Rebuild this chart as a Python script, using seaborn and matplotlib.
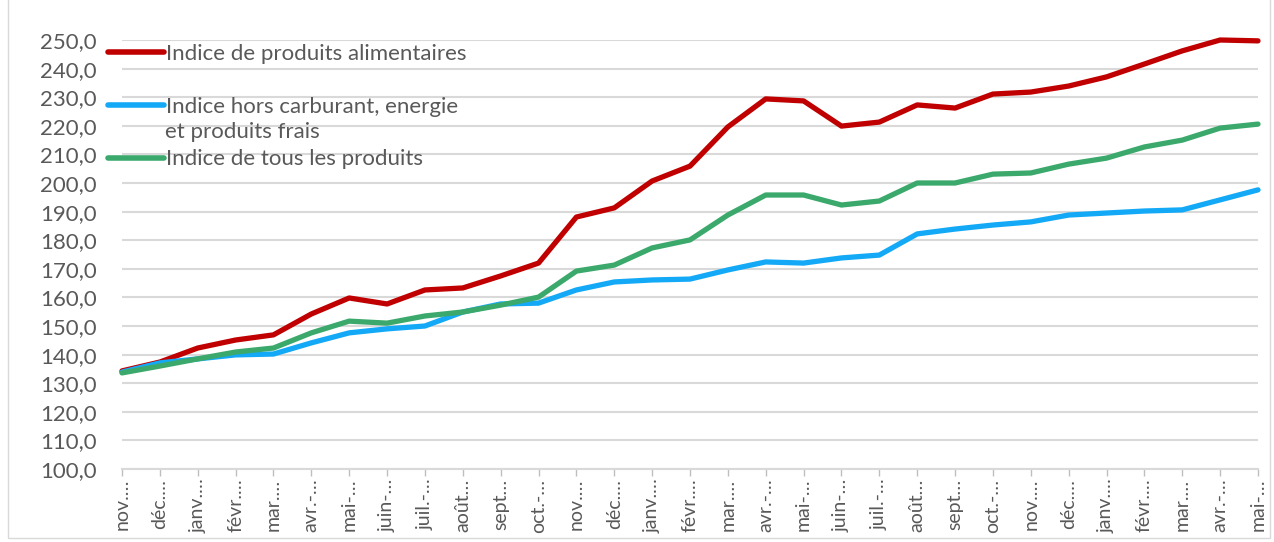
import matplotlib
matplotlib.use("Agg")
import matplotlib.pyplot as plt
import seaborn as sns
import pandas as pd
from matplotlib.patches import Rectangle

months = ["nov.…", "déc.…", "janv.…", "févr.…", "mar.…", "avr.-…", "mai-…", "juin-…",
          "juil.-…", "août…", "sept…", "oct.-…",
          "nov.…", "déc.…", "janv.…", "févr.…", "mar.…", "avr.-…", "mai-…", "juin-…",
          "juil.-…", "août…", "sept…", "oct.-…",
          "nov.…", "déc.…", "janv.…", "févr.…", "mar.…", "avr.-…", "mai-…"]

alimentaires = [134.3, 137.4, 142.3, 145.1, 146.9, 154.2, 159.8, 157.7, 162.6, 163.3,
                167.5, 172.0, 188.1, 191.3, 200.7, 205.9, 219.6, 229.4, 228.7, 219.9,
                221.3, 227.3, 226.2, 231.1, 231.8, 233.9, 237.1, 241.6, 246.2, 250.0, 249.7]
hors_carburant = [133.9, 137.1, 138.5, 139.9, 140.2, 144.1, 147.6, 149.0, 150.0, 154.9,
                  157.7, 158.0, 162.6, 165.4, 166.1, 166.4, 169.6, 172.4, 172.0, 173.8,
                  174.8, 182.2, 183.9, 185.3, 186.4, 188.8, 189.5, 190.2, 190.6, 194.1, 197.6]
tous = [133.6, 136.0, 138.5, 140.9, 142.3, 147.6, 151.7, 151.0, 153.5, 154.9,
        157.3, 160.1, 169.2, 171.3, 177.3, 180.1, 188.8, 195.8, 195.8, 192.3,
        193.7, 200.0, 200.0, 203.1, 203.5, 206.6, 208.7, 212.6, 215.0, 219.2, 220.6]

series_names = ["Indice de produits alimentaires",
                "Indice hors carburant, energie",
                "Indice de tous les produits"]
second_line = "et produits frais"
colors = ["#C00000", "#13A9F6", "#3BA96C"]

rows = []
for name, vals in zip(series_names, [alimentaires, hors_carburant, tous]):
    for i, v in enumerate(vals):
        rows.append({"i": i, "val": v, "serie": name})
df = pd.DataFrame(rows)

sns.set_theme(style="white")
plt.rcParams['font.family'] = ['Lato', 'DejaVu Sans']

FS = 16
fig = plt.figure(figsize=(12.74, 5.42), dpi=100)
ax = fig.add_axes([122/1274, 1-469/542, (1258-122)/1274, (469-40)/542])

sns.lineplot(data=df, x="i", y="val", hue="serie", hue_order=series_names,
             palette=colors, linewidth=3.8, ax=ax, legend=True)
for ln in ax.lines:
    ln.set_clip_on(False)
    ln.set_solid_joinstyle("round")
    ln.set_solid_capstyle("round")

ax.set_xlim(0, len(months) - 1)
ax.set_ylim(100, 250)
ax.set_yticks(range(100, 251, 10))
ax.set_yticklabels([f"{v},0" for v in range(100, 251, 10)])
ax.set_xticks(range(len(months)))
ax.set_xticklabels(months, rotation=90)
ax.set_xlabel("")
ax.set_ylabel("")
ax.grid(axis="y", color="#D9D9D9", linewidth=1.5)
ax.set_axisbelow(True)
for s in ["top", "right", "left"]:
    ax.spines[s].set_visible(False)
ax.spines["bottom"].set_color("#D9D9D9")
ax.spines["bottom"].set_linewidth(1.5)
ax.tick_params(axis="x", length=5, width=1, color="#BFBFBF", labelsize=14,
               labelcolor="#595959", pad=2, bottom=True)
ax.tick_params(axis="y", length=0, labelsize=FS, labelcolor="#595959", pad=18)

leg = ax.legend(loc="upper left", bbox_to_anchor=(108/1274, 1-44/542),
                bbox_transform=fig.transFigure, frameon=False, fontsize=FS,
                handlelength=2.5, handletextpad=0.1, labelspacing=1.47,
                borderaxespad=0, borderpad=0)
for t in leg.get_texts():
    t.set_color("#595959")
for h in leg.get_lines():
    h.set_linewidth(4)

fig.text(165/1274, 1-132/542, second_line, fontsize=FS, color="#595959",
         va="center", ha="left")

fig.patches.append(Rectangle((8/1274, 4/542), 1262/1274, 540/542, transform=fig.transFigure,
                             fill=False, edgecolor="#D9D9D9", linewidth=1))

fig.savefig("out.png", dpi=100)
